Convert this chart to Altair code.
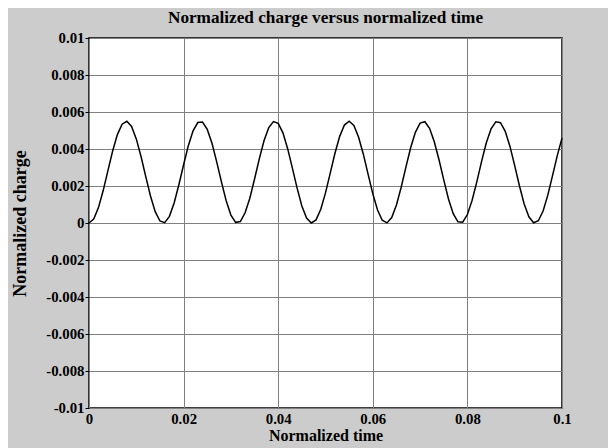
import altair as alt
import pandas as pd

# time samples (normalized time)
t_step = 0.001
t_vals = [round(k * t_step, 3) for k in range(101)]

# normalized charge values
q_vals = [
    0.0, 0.000217, 0.000833, 0.001754, 0.00283, 0.003894, 0.004777, 0.00534, 0.005496, 0.005217,
    0.004548, 0.003595, 0.00251, 0.001462, 0.000616, 0.00011, 0.00002, 0.00036, 0.001078, 0.002068,
    0.00315, 0.00418, 0.00498, 0.00543, 0.00546, 0.00506, 0.00431, 0.003306, 0.00222, 0.001207,
    0.000429, 0.000036, 0.000077, 0.00055, 0.001342, 0.002376, 0.003465, 0.004444, 0.005154, 0.005484,
    0.005385, 0.004873, 0.004018, 0.00297, 0.001886, 0.000924, 0.000267, 0.000003, 0.000168, 0.00074,
    0.00163, 0.002696, 0.00377, 0.004683, 0.005294, 0.0055, 0.005272, 0.004634, 0.00372, 0.002644,
    0.001579, 0.000704, 0.000151, 0.000006, 0.000297, 0.000974, 0.00193, 0.003017, 0.004065, 0.004898,
    0.005398, 0.005476, 0.00512, 0.004392, 0.003416, 0.002329, 0.001298, 0.000503, 0.000063, 0.000047,
    0.000457, 0.00123, 0.00224, 0.003335, 0.004337, 0.005085, 0.005467, 0.00542, 0.004956, 0.004139,
    0.003102, 0.002013, 0.001031, 0.000333, 0.000014, 0.000124, 0.000651, 0.001507, 0.00256, 0.003644,
    0.004587,
]

x_ticks = [0, 0.02, 0.04, 0.06, 0.08, 0.1]
y_ticks = [-0.01, -0.008, -0.006, -0.004, -0.002, 0, 0.002, 0.004, 0.006, 0.008, 0.01]

df = pd.DataFrame({"t": t_vals, "q": q_vals})

FONT = "Liberation Serif"

chart = (
    alt.Chart(df)
    .mark_line(color="black", strokeWidth=1.5)
    .encode(
        x=alt.X(
            "t:Q",
            scale=alt.Scale(domain=[0, 0.1], nice=False, zero=False),
            axis=alt.Axis(
                title="Normalized time",
                values=x_ticks,
                labelExpr="datum.value == 0 ? '0' : '' + round(datum.value*100)/100",
                tickSize=0,
                labelPadding=3,
                titlePadding=2,
                titleFontSize=16,
            ),
        ),
        y=alt.Y(
            "q:Q",
            scale=alt.Scale(domain=[-0.01, 0.01], nice=False, zero=False),
            axis=alt.Axis(
                title="Normalized charge",
                values=y_ticks,
                labelExpr="datum.value == 0 ? '0' : '' + round(datum.value*1000)/1000",
                tickSize=4,
                labelPadding=1,
                titlePadding=16,
                titleFontSize=18,
            ),
        ),
    )
    .properties(
        width=473,
        height=370,
        title=alt.TitleParams(
            "Normalized charge versus normalized time",
            font=FONT,
            fontSize=17.2,
            fontWeight="bold",
            color="black",
            anchor="middle",
            offset=4,
        ),
        autosize=alt.AutoSizeParams(type="none"),
        padding={"left": 81, "top": 30, "right": 46, "bottom": 40},
        background="#cccccc",
    )
    .configure_view(fill="white", stroke="black", strokeWidth=1.5)
    .configure_axis(
        labelFont=FONT,
        titleFont=FONT,
        labelFontSize=14.8,
        labelFontWeight="bold",
        titleFontWeight="bold",
        labelColor="black",
        titleColor="black",
        domain=False,
        tickColor="black",
        grid=True,
        gridColor="#808080",
        gridWidth=1,
        labelOverlap=False,
        labelFlush=False,
    )
)

chart.save("out.html", embed_options={"renderer": "svg", "actions": False})
